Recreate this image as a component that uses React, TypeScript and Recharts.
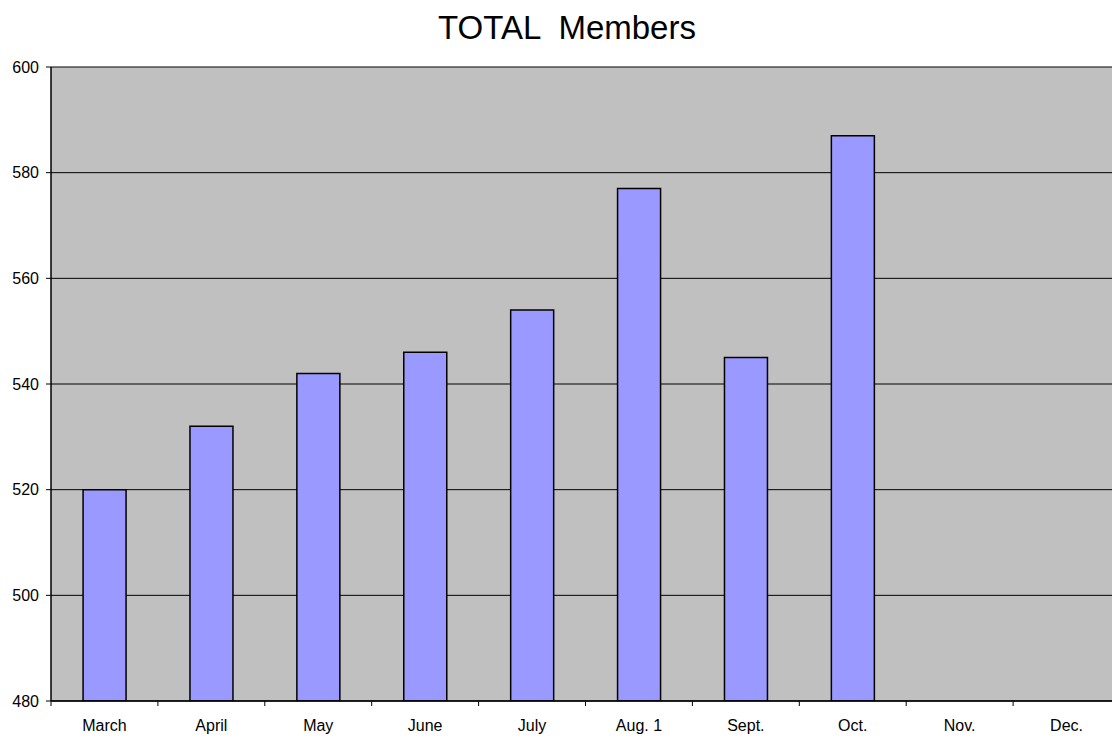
import React from 'react';
import { BarChart, Bar, XAxis, YAxis, CartesianGrid } from 'recharts';

const months = ['March', 'April', 'May', 'June', 'July', 'Aug. 1', 'Sept.', 'Oct.', 'Nov.', 'Dec.'];
const totals: (number | null)[] = [520, 532, 542, 546, 554, 577, 545, 587, null, null];
const yTicks = [480, 500, 520, 540, 560, 580, 600];

const data = months.map((m, i) => ({ month: m, total: totals[i] }));

const CHART_W = 1130;
const CHART_H = 739;
const LEFT = 51;
const RIGHT_MARGIN = 10;
const TOP = 67;
const X_AXIS_H = 38;
const PLOT_W = CHART_W - LEFT - RIGHT_MARGIN;
const BAND = PLOT_W / months.length;

const XTick = (props: any) => {
  const { x, y, payload } = props;
  const bx = x - BAND / 2;
  return (
    <g>
      <line x1={bx} y1={y - 8} x2={bx} y2={y - 3} stroke="#000" strokeWidth={1} />
      <text
        x={x}
        y={y + 16}
        textAnchor="middle"
        dominantBaseline="central"
        fontFamily="'Liberation Sans', Arial, sans-serif"
        fontSize={16}
        fill="#000"
      >
        {payload.value}
      </text>
    </g>
  );
};

export default function App() {
  return (
    <div style={{ position: 'absolute', left: 0, top: 0, width: 1112, height: 739, overflow: 'hidden', background: '#fff' }}>
      <div
        style={{
          position: 'absolute',
          left: 0,
          top: 8,
          width: 1134,
          textAlign: 'center',
          fontFamily: "'Liberation Sans', Arial, sans-serif",
          fontSize: 33,
          lineHeight: '40px',
          color: '#000',
          whiteSpace: 'pre',
        }}
      >
        {'TOTAL  Members'}
      </div>
      <div style={{ position: 'absolute', left: 0, top: 0 }}>
        <BarChart
          width={CHART_W}
          height={CHART_H}
          data={data}
          margin={{ top: TOP, right: RIGHT_MARGIN, bottom: 0, left: 0 }}
          barCategoryGap="30%"
        >
          <CartesianGrid
            vertical={false}
            stroke="#000"
            strokeWidth={1}
            fill="#c0c0c0"
            fillOpacity={1}
          />
          <XAxis
            dataKey="month"
            height={X_AXIS_H}
            axisLine={{ stroke: '#000', strokeWidth: 1.5 }}
            tickLine={false}
            tick={<XTick />}
            interval={0}
          />
          <YAxis
            width={LEFT}
            domain={[480, 600]}
            ticks={yTicks}
            allowDataOverflow
            axisLine={{ stroke: '#000', strokeWidth: 1.5 }}
            tickLine={{ stroke: '#000' }}
            tickSize={5}
            tickMargin={7}
            tick={{ fill: '#000', fontSize: 16, fontFamily: "'Liberation Sans', Arial, sans-serif" }}
          />
          <Bar
            dataKey="total"
            fill="#9999ff"
            stroke="#000"
            strokeWidth={1.5}
            isAnimationActive={false}
          />
        </BarChart>
      </div>
    </div>
  );
}
